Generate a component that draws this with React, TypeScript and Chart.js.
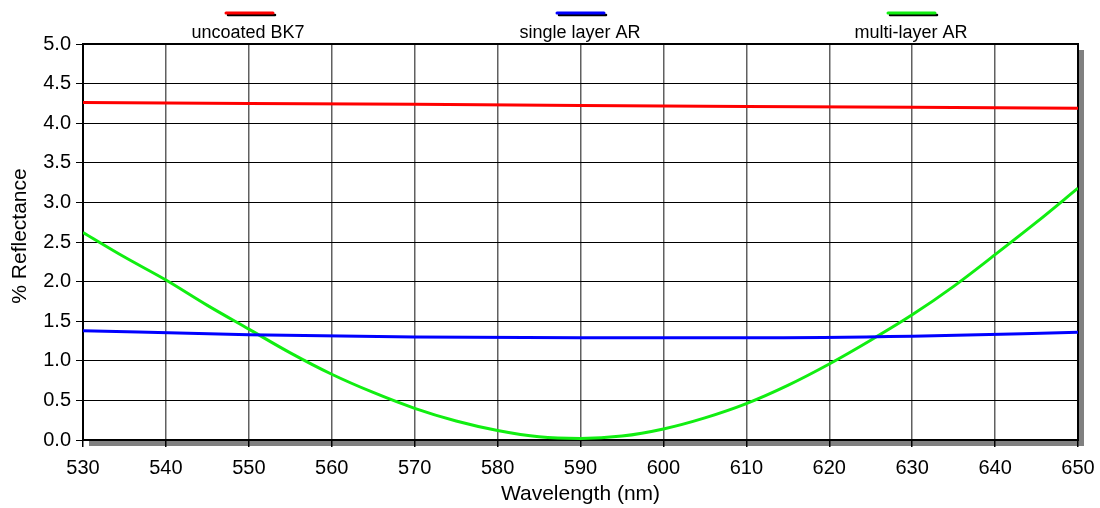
import React, { useEffect, useRef } from "react";
import { Chart, registerables } from "chart.js";

Chart.register(...registerables);

const wavelengthsGreen = [530, 535, 540, 545, 550, 555, 560, 565, 570, 575, 580, 585, 590, 595, 600, 605, 610, 615, 620, 625, 630, 635, 640, 645, 650];
const multiLayerAR = [2.62, 2.31, 2.02, 1.70, 1.40, 1.10, 0.83, 0.60, 0.40, 0.24, 0.12, 0.04, 0.02, 0.05, 0.14, 0.28, 0.46, 0.69, 0.96, 1.26, 1.58, 1.94, 2.34, 2.75, 3.18];
const wavelengthsCoarse = [530, 550, 570, 590, 610, 630, 650];
const uncoatedBK7 = [4.26, 4.25, 4.24, 4.225, 4.21, 4.2, 4.19];
const singleLayerAR = [1.38, 1.33, 1.30, 1.29, 1.29, 1.31, 1.36];
const seriesNames = ["uncoated BK7", "single layer AR", "multi-layer AR"];
const seriesColors = ["#ff0000", "#0000ff", "#11ee11"];
const xTitle = "Wavelength (nm)";
const yTitle = "% Reflectance";

const FONT = "'Liberation Sans', Arial, sans-serif";

const decorPlugin = {
  id: "decor",
  beforeDraw(chart: any) {
    const { ctx, chartArea: a } = chart;
    ctx.save();
    ctx.fillStyle = "#ffffff";
    ctx.fillRect(0, 0, chart.width, chart.height);
    ctx.fillStyle = "#808080";
    ctx.fillRect(a.left + 6, a.bottom, a.right - a.left, 6);
    ctx.fillRect(a.right, a.top + 6, 6, a.bottom - a.top);
    ctx.restore();
  },
  beforeDatasetsDraw(chart: any) {
    const { ctx, chartArea: a } = chart;
    ctx.save();
    ctx.strokeStyle = "#000";
    ctx.lineWidth = 2;
    ctx.strokeRect(a.left, a.top, a.right - a.left, a.bottom - a.top);
    ctx.restore();
  },
  afterDraw(chart: any) {
    const { ctx } = chart;
    const centers = [250, 581, 912];
    const labelCenters = [248, 580, 911];
    ctx.save();
    seriesNames.forEach((name, i) => {
      const c = centers[i];
      ctx.lineCap = "round";
      ctx.strokeStyle = "#000";
      ctx.lineWidth = 2.5;
      ctx.beginPath();
      ctx.moveTo(c - 22, 15);
      ctx.lineTo(c + 25, 15);
      ctx.stroke();
      ctx.strokeStyle = seriesColors[i];
      ctx.lineWidth = 3;
      ctx.beginPath();
      ctx.moveTo(c - 24, 13);
      ctx.lineTo(c + 23, 13);
      ctx.stroke();
      ctx.fillStyle = "#000";
      ctx.font = `18px ${FONT}`;
      ctx.textAlign = "center";
      ctx.textBaseline = "middle";
      ctx.fillText(name, labelCenters[i], 33);
    });
    ctx.translate(20, 236);
    ctx.rotate(-Math.PI / 2);
    ctx.font = `21px ${FONT}`;
    ctx.fillStyle = "#000";
    ctx.textAlign = "center";
    ctx.textBaseline = "middle";
    ctx.fillText(yTitle, 0, 0);
    ctx.restore();
  },
};

export default function App() {
  const ref = useRef<HTMLCanvasElement>(null);
  useEffect(() => {
    document.body.style.margin = "0";
    const ctx = ref.current!.getContext("2d")!;
    const chart = new Chart(ctx, {
      type: "line",
      data: {
        datasets: [
          {
            label: seriesNames[0],
            data: wavelengthsCoarse.map((x, i) => ({ x, y: uncoatedBK7[i] })),
            borderColor: seriesColors[0],
            borderWidth: 3,
            pointRadius: 0,
          },
          {
            label: seriesNames[1],
            data: wavelengthsCoarse.map((x, i) => ({ x, y: singleLayerAR[i] })),
            borderColor: seriesColors[1],
            borderWidth: 3,
            pointRadius: 0,
            cubicInterpolationMode: "monotone",
          },
          {
            label: seriesNames[2],
            data: wavelengthsGreen.map((x, i) => ({ x, y: multiLayerAR[i] })),
            borderColor: seriesColors[2],
            borderWidth: 3,
            pointRadius: 0,
            cubicInterpolationMode: "monotone",
          },
        ],
      },
      options: {
        animation: false,
        responsive: false,
        maintainAspectRatio: false,
        layout: { padding: { top: 44, right: 22, left: 0, bottom: 0 } },
        plugins: { legend: { display: false }, tooltip: { enabled: false } },
        scales: {
          x: {
            type: "linear",
            min: 530,
            max: 650,
            afterFit: (s: any) => { s.height = 68; s.paddingLeft = 0; s.paddingRight = 0; },
            ticks: { stepSize: 10, color: "#000", font: { family: FONT, size: 20 }, padding: 9, maxRotation: 0 },
            grid: { color: "#606060", lineWidth: 1.5, tickLength: 7, tickColor: "#000", tickWidth: 1.5 },
            border: { color: "#000", width: 2 },
            title: { display: true, text: xTitle, color: "#000", font: { family: FONT, size: 21 }, padding: { top: 0, bottom: 1 } },
          },
          y: {
            min: 0,
            max: 5,
            afterFit: (s: any) => { s.width = 83; s.paddingTop = 0; s.paddingBottom = 0; },
            ticks: { stepSize: 0.5, color: "#000", font: { family: FONT, size: 20 }, padding: 5, callback: (v: any) => Number(v).toFixed(1) },
            grid: { color: "#000", lineWidth: 1, tickLength: 7, tickColor: "#000" },
            border: { color: "#000", width: 2 },
            title: { display: false, text: yTitle },
          },
        },
      },
      plugins: [decorPlugin],
    });
    return () => chart.destroy();
  }, []);
  return (
    <div style={{ width: 1100, height: 508 }}>
      <canvas ref={ref} width={1100} height={508} style={{ display: "block" }} />
    </div>
  );
}
